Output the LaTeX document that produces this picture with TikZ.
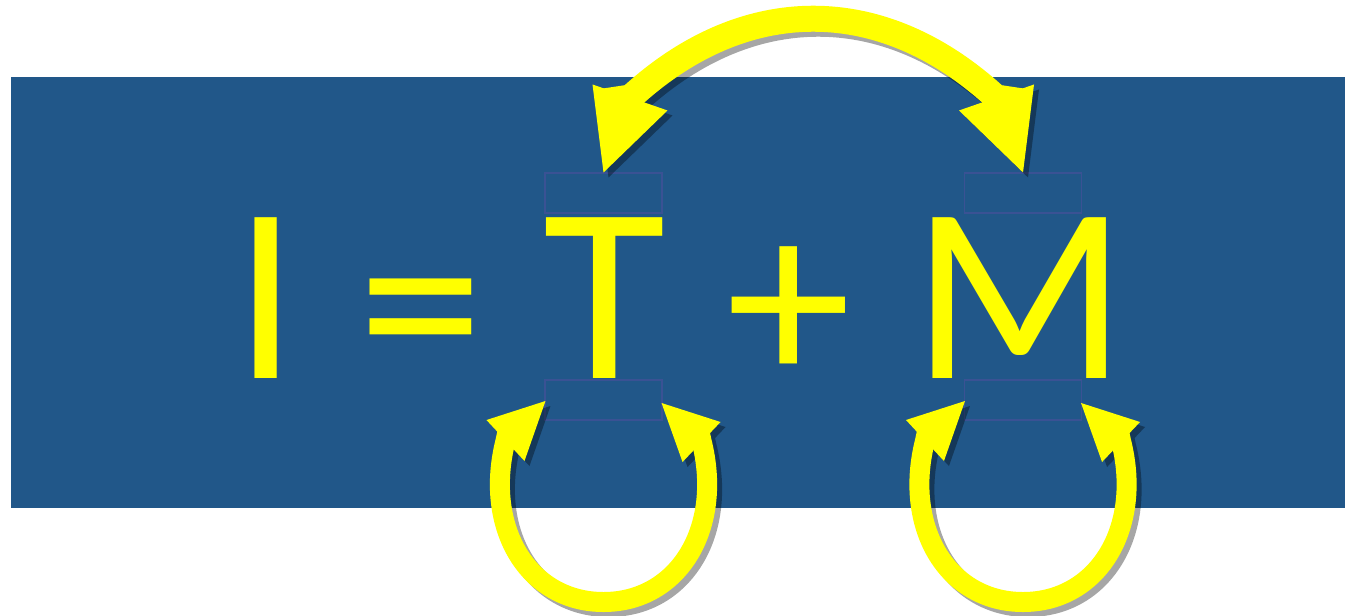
\documentclass[tikz,border=0pt]{standalone}
\usepackage{fontspec}
\setmainfont{Carlito}
\usetikzlibrary{calc}
\definecolor{bgblue}{RGB}{33,87,137}
\definecolor{boxline}{RGB}{58,82,148}
\definecolor{ayellow}{RGB}{255,255,0}
\begin{document}
\begin{tikzpicture}[x=0.75pt,y=-0.75pt,
  glyph/.style={anchor=base,inner sep=0pt,text=ayellow,font=\fontsize{188pt}{190pt}\selectfont},
  slot/.style={draw=boxline,line width=0.8pt,minimum width=87.75pt,minimum height=30pt,inner sep=0pt},
  bigshaft/.style={line width=19.5pt},
  loopshaft/.style={line width=15pt},
]
\useasboundingbox (0,0) rectangle (1345,615);
\fill[bgblue] (11,77) rectangle (1345,508);

\node[slot] (tTop) at (603.5,193) {};
\node[slot] (tBot) at (603.5,400) {};
\node[slot] (mTop) at (1023,193) {};
\node[slot] (mBot) at (1023,400) {};

\node[glyph] (gI) at (266.5,378.5) {I};
\node[glyph] (gEq) at (420.5,386) {=};
\node[glyph] (gT) at (604.5,378.5) {T};
\node[glyph] (gP) at (789,384) {+};
\node[glyph] (gM) at (1020,378.5) {M};

% top arrow geometry
\coordinate (aL) at ($(tTop.north)+(-6,-70)$);
\coordinate (bL) at ($(tTop.north)+(27,-75)$);
\coordinate (aR) at ($(mTop.north)+(6,-70)$);
\coordinate (bR) at ($(mTop.north)+(-27,-75)$);
% loops geometry
\coordinate (tLow) at (603.5,602);
\coordinate (mLow) at (1023,602);
\foreach \n in {t,m}{
  \coordinate (\n aL) at ($(\n Bot.west)+(-36,27)$);
  \coordinate (\n bL) at ($(\n Bot.west)+(-39,41)$);
  \coordinate (\n aR) at ($(\n Bot.east)+(36,27)$);
  \coordinate (\n bR) at ($(\n Bot.east)+(39,41)$);
}

\foreach \col/\op/\d in {black/0.35/5, ayellow/1/0}{
  \begin{scope}[transparency group, opacity=\op, transform canvas={shift={(\d*0.75pt,-\d*0.75pt)}}]
    % top double arrow
    \draw[bigshaft, draw=\col] (aL) -- (bL) .. controls +(114,-105) and +(-114,-105) .. (bR) -- (aR);
    \fill[\col] (tTop.north) -- ($(tTop.north)+(-11,-88)$) -- ($(tTop.north)+(64,-62)$) -- cycle;
    \fill[\col] (mTop.north) -- ($(mTop.north)+(11,-88)$) -- ($(mTop.north)+(-64,-62)$) -- cycle;
    % self loops
    \foreach \n in {t,m}{
      \draw[loopshaft, draw=\col] (\n aL) -- (\n bL) .. controls +(-22,87) and +(-75,0) .. (\n Low)
         .. controls +(75,0) and +(22,87) .. (\n bR) -- (\n aR);
      \fill[\col] ($(\n Bot.west)+(1,1)$) -- ($(\n Bot.west)+(-58,20)$) -- ($(\n Bot.west)+(-20,61)$) -- cycle;
      \fill[\col] ($(\n Bot.east)+(-1,3)$) -- ($(\n Bot.east)+(58,22)$) -- ($(\n Bot.east)+(20,62)$) -- cycle;
    }
  \end{scope}
}
\end{tikzpicture}
\end{document}
